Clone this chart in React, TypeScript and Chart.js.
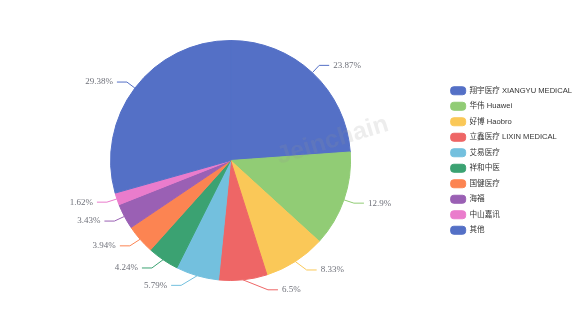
import React, { useEffect, useRef } from "react";
import { Chart, registerables } from "chart.js";

Chart.register(...registerables);

const categories: string[] = [
  "翔宇医疗 XIANGYU MEDICAL",
  "华伟 Huawei",
  "好博 Haobro",
  "立鑫医疗 LIXIN MEDICAL",
  "艾易医疗",
  "祥和中医",
  "国健医疗",
  "海福",
  "中山嘉讯",
  "其他",
];

const shares: number[] = [23.87, 12.9, 8.33, 6.5, 5.79, 4.24, 3.94, 3.43, 1.62, 29.38];

const palette: string[] = [
  "#5470c6",
  "#91cc75",
  "#fac858",
  "#ee6666",
  "#73c0de",
  "#3ba272",
  "#fc8452",
  "#9a60b4",
  "#ea7ccc",
  "#5470c6",
];

const watermarkText = "Jeinchain";

const pieLabelPlugin = {
  id: "pieLabels",
  afterDatasetsDraw(chart: any) {
    const ctx = chart.ctx;
    const meta = chart.getDatasetMeta(0);
    const data = chart.data.datasets[0].data as number[];
    const len1 = 10;
    const len2 = 10;
    const gap = 4;
    ctx.save();
    meta.data.forEach((arc: any, i: number) => {
      const { x, y, startAngle, endAngle, outerRadius } = arc.getProps(
        ["x", "y", "startAngle", "endAngle", "outerRadius"],
        true
      );
      const mid = (startAngle + endAngle) / 2;
      const dx = Math.cos(mid);
      const dy = Math.sin(mid);
      const p0x = x + outerRadius * dx;
      const p0y = y + outerRadius * dy;
      const rA = outerRadius + len1;
      const p1y = y + rA * dy;
      let p1x = x + rA * dx;
      if (dy > 0) {
        // bottom half: labels follow a slightly taller ellipse
        const rB = rA + 5;
        const ddy = Math.abs(p1y - y);
        const ex = rA * Math.sqrt(Math.max(0, 1 - (ddy * ddy) / (rB * rB)));
        p1x = x + (dx < 0 ? -ex : ex);
      }
      const dir = dx < 0 ? -1 : 1;
      const p2x = p1x + dir * len2;
      ctx.beginPath();
      ctx.strokeStyle = palette[i];
      ctx.lineWidth = 1;
      ctx.moveTo(p0x, p0y);
      ctx.lineTo(p1x, p1y);
      ctx.lineTo(p2x, p1y);
      ctx.stroke();
      ctx.fillStyle = "#6e7079";
      ctx.font = '9px "Liberation Serif", serif';
      ctx.textBaseline = "middle";
      ctx.textAlign = dir < 0 ? "right" : "left";
      ctx.fillText(data[i] + "%", p2x + dir * gap, p1y);
    });
    ctx.restore();
  },
};

const watermarkPlugin = {
  id: "watermark",
  afterDraw(chart: any) {
    const ctx = chart.ctx;
    const meta = chart.getDatasetMeta(0);
    const arc = meta.data[0];
    if (!arc) return;
    const cx = arc.x + 102;
    const cy = arc.y - 20;
    ctx.save();
    ctx.translate(cx, cy);
    ctx.rotate((-17 * Math.PI) / 180);
    ctx.font = 'bold 25px "Liberation Sans", sans-serif';
    ctx.fillStyle = "rgba(150,150,150,0.17)";
    ctx.textAlign = "center";
    ctx.textBaseline = "middle";
    ctx.fillText(watermarkText, 0, 0);
    ctx.restore();
  },
};

export default function App() {
  const canvasRef = useRef<HTMLCanvasElement | null>(null);

  useEffect(() => {
    if (!canvasRef.current) return;
    const chart = new Chart(canvasRef.current, {
      type: "pie",
      data: {
        labels: categories,
        datasets: [
          {
            data: shares,
            backgroundColor: palette,
            borderColor: palette,
            borderWidth: 1,
            hoverOffset: 0,
          },
        ],
      },
      options: {
        animation: false,
        responsive: true,
        maintainAspectRatio: false,
        rotation: 0,
        layout: {
          padding: { top: 40, bottom: 39, left: 18, right: -6 },
        },
        plugins: {
          tooltip: { enabled: false },
          legend: {
            position: "right",
            align: "center",
            labels: {
              boxWidth: 15,
              boxHeight: 8,
              padding: 7.5,
              useBorderRadius: true,
              borderRadius: 3,
              color: "#333",
              font: {
                size: 7.6,
                family: '"Liberation Sans", "Noto Sans CJK SC", sans-serif',
              },
            },
          },
        },
      },
      plugins: [pieLabelPlugin, watermarkPlugin],
    });
    return () => chart.destroy();
  }, []);

  return (
    <div
      style={{
        position: "absolute",
        left: 0,
        top: 0,
        width: 576,
        height: 320,
        background: "#fff",
      }}
    >
      <canvas ref={canvasRef} />
    </div>
  );
}
